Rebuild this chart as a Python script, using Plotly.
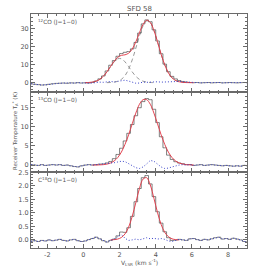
import plotly.graph_objects as go

# channel velocities (km/s)
velocity = [-2.9, -2.7, -2.5, -2.3, -2.1, -1.9, -1.7, -1.5, -1.3, -1.1,
            -0.9, -0.7, -0.5, -0.3, -0.1, 0.1, 0.3, 0.5, 0.7, 0.9,
            1.1, 1.3, 1.5, 1.7, 1.9, 2.1, 2.3, 2.5, 2.7, 2.9,
            3.1, 3.3, 3.5, 3.7, 3.9, 4.1, 4.3, 4.5, 4.7, 4.9,
            5.1, 5.3, 5.5, 5.7, 5.9, 6.1, 6.3, 6.5, 6.7, 6.9,
            7.1, 7.3, 7.5, 7.7, 7.9, 8.1, 8.3, 8.5, 8.7, 8.9, 9.1]

# ---- 12CO (J=1-0)
co12_obs = [-0.6, -0.9, -1.1, -1.3, -1.2, -0.9, -0.6, -0.4, -0.3, -0.2,
            -0.3, -0.1, -0.2, 0.0, -0.2, -0.07, -0.19, 0.13, 0.93, 2.13,
            3.74, 6.53, 9.7, 12.3, 14.7, 16.2, 16.9, 17.3, 18.8, 22.4,
            27.6, 32.7, 34.9, 33.9, 29.4, 23.2, 16.1, 10.3, 6.1, 3.5,
            2.1, 1.2, 0.67, 0.36, 0.1, 0.0, 0.1, -0.1, 0.0, 0.1,
            -0.1, 0.0, 0.1, -0.1, 0.0, 0.1, 0.0, -0.1, 0.0, 0.1, 0.0]
co12_res = [-0.6, -0.9, -1.1, -1.3, -1.2, -0.9, -0.6, -0.4, -0.3, -0.2,
            -0.3, -0.1, -0.2, 0.0, -0.2, -0.1, -0.3, -0.2, 0.1, 0.3,
            0.2, 0.5, 0.7, 0.4, 0.6, 1.0, 1.4, 0.9, 0.1, -0.3,
            -0.2, 0.3, 0.2, 0.4, 0.3, 0.5, 0.3, 0.4, 0.6, 0.8,
            0.9, 0.7, 0.5, 0.3, 0.1, 0.0, 0.1, -0.1, 0.0, 0.1,
            -0.1, 0.0, 0.1, -0.1, 0.0, 0.1, 0.0, -0.1, 0.0, 0.1, 0.0]
co12_fit_first = 15
co12_fit = [0.03, 0.11, 0.33, 0.83, 1.83, 3.54, 6.03, 9.0, 11.9, 14.1,
            15.2, 15.5, 16.4, 18.7, 22.7, 27.8, 32.4, 34.7, 33.5, 29.1,
            22.7, 15.8, 9.9, 5.5, 2.7, 1.2, 0.5, 0.17, 0.06, 0.02, 0.0]
co12_comp1_first = 15
co12_comp1 = [0.03, 0.11, 0.33, 0.83, 1.83, 3.54, 6.0, 8.9, 11.6, 13.3,
              13.3, 11.6, 8.9, 6.0, 3.54, 1.83, 0.83, 0.33, 0.11, 0.03]
co12_comp2_first = 21
co12_comp2 = [0.03, 0.1, 0.3, 0.79, 1.86, 3.9, 7.5, 12.7, 19.2, 26.0,
              31.6, 34.4, 33.4, 29.1, 22.7, 15.8, 9.9, 5.5, 2.7, 1.2,
              0.5, 0.17, 0.06]

# ---- 13CO (J=1-0)
co13_obs = [0.1, 0.0, -0.1, 0.1, -0.1, 0.0, 0.1, 0.0, 0.1, -0.1,
            0.0, -0.2, -0.4, -0.5, -0.2, 0.0, 0.1, 0.0, 0.1, 0.24,
            0.3, 0.55, 0.93, 1.67, 2.77, 4.39, 6.3, 8.3, 10.6, 12.9,
            15.0, 16.6, 17.4, 17.1, 14.6, 11.1, 7.4, 4.5, 2.59, 1.47,
            0.87, 0.53, 0.35, 0.1, 0.14, -0.1, 0.0, 0.1, -0.1, 0.0,
            0.1, 0.0, -0.1, -0.2, -0.1, -0.2, -0.3, -0.2, -0.3, -0.1, -0.2]
co13_res = [0.1, 0.0, -0.1, 0.1, -0.1, 0.0, 0.1, 0.0, 0.1, -0.1,
            0.0, -0.2, -0.4, -0.5, -0.2, 0.0, 0.1, 0.0, 0.1, 0.2,
            0.2, 0.3, 0.4, 0.6, 0.8, 1.0, 0.9, 0.4, -0.2, -0.7,
            -0.9, -0.5, 0.3, 1.2, 1.0, 0.3, -0.5, -0.9, -0.8, -0.5,
            -0.2, 0.0, 0.1, 0.0, 0.1, -0.1, 0.0, 0.1, -0.1, 0.0,
            0.1, 0.0, -0.1, -0.2, -0.1, -0.2, -0.3, -0.2, -0.3, -0.1, -0.2]
co13_fit_first = 17
co13_fit = [0.0, 0.01, 0.04, 0.1, 0.25, 0.53, 1.07, 1.97, 3.39, 5.4,
            7.9, 10.8, 13.6, 15.9, 17.1, 17.1, 15.9, 13.6, 10.8, 7.9,
            5.4, 3.39, 1.97, 1.07, 0.53, 0.25, 0.1, 0.04, 0.01]

# ---- C18O (J=1-0)
c18o_obs = [-0.05, -0.03, -0.06, -0.02, -0.04, 0.0, -0.03, -0.01, 0.02, -0.02,
            -0.04, 0.0, 0.02, -0.03, -0.06, -0.04, 0.01, 0.05, 0.1, 0.04,
            -0.03, -0.08, -0.02, 0.03, 0.15, 0.29, 0.28, 0.45, 0.87, 1.41,
            1.90, 2.30, 2.38, 2.07, 1.60, 1.04, 0.62, 0.30, 0.08, -0.02,
            -0.01, 0.02, 0.0, -0.02, 0.04, 0.05, 0.01, -0.02, 0.02, 0.0,
            0.04, 0.08, 0.1, 0.03, 0.05, 0.02, 0.06, 0.03, 0.0, -0.06, -0.08]
c18o_res = [-0.05, -0.03, -0.06, -0.02, -0.04, 0.0, -0.03, -0.01, 0.02, -0.02,
            -0.04, 0.0, 0.02, -0.03, -0.06, -0.04, 0.01, 0.05, 0.1, 0.04,
            -0.03, -0.08, -0.02, 0.03, 0.12, 0.2, 0.06, -0.02, 0.0, 0.03,
            0.0, 0.05, 0.08, 0.04, 0.06, 0.03, 0.05, 0.02, -0.04, -0.06,
            -0.01, 0.02, 0.0, -0.02, 0.04, 0.05, 0.01, -0.02, 0.02, 0.0,
            0.04, 0.08, 0.1, 0.03, 0.05, 0.02, 0.06, 0.03, 0.0, -0.06, -0.08]
c18o_fit_first = 22
c18o_fit = [0.0, 0.01, 0.03, 0.09, 0.22, 0.47, 0.87, 1.38, 1.90, 2.25,
            2.30, 2.03, 1.54, 1.01, 0.57, 0.28, 0.12, 0.04, 0.01, 0.0]

panel_labels = ["<sup>12</sup>CO (J=1\u22120)",
                "<sup>13</sup>CO (J=1\u22120)",
                "C<sup>18</sup>O (J=1\u22120)"]
x_tickvals = [-2, 0, 2, 4, 6, 8]
x_ticktext = ["-2", "0", "2", "4", "6", "8"]
y1_ticks = [0, 10, 20, 30]
y2_ticks = [0, 5, 10, 15]
y3_ticks = [0.0, 0.5, 1.0, 1.5, 2.0, 2.5]

OBS_C = "#4a4a4a"
FIT_C = "#e23a48"
RES_C = "#3a44c8"
CMP_C = "#8c8c8c"

fig = go.Figure()


def sub(first, vals):
    return velocity[first:first + len(vals)]


def panel(idx, obs, res, fit_first, fit, comps=()):
    xa = "x" if idx == 1 else f"x{idx}"
    ya = "y" if idx == 1 else f"y{idx}"
    for cf, cv in comps:
        fig.add_trace(go.Scatter(x=sub(cf, cv), y=cv, mode="lines",
                                 line=dict(color=CMP_C, width=0.9, dash="4px,3px", shape="spline"),
                                 xaxis=xa, yaxis=ya, showlegend=False))
    fig.add_trace(go.Scatter(x=velocity, y=obs, mode="lines",
                             line=dict(color=OBS_C, width=0.7, shape="hvh"),
                             xaxis=xa, yaxis=ya, showlegend=False))
    fig.add_trace(go.Scatter(x=sub(fit_first, fit), y=fit, mode="lines",
                             line=dict(color=FIT_C, width=0.95, shape="spline"),
                             xaxis=xa, yaxis=ya, showlegend=False))
    fig.add_trace(go.Scatter(x=velocity, y=res, mode="lines",
                             line=dict(color=RES_C, width=1.0, dash="1px,2px"),
                             xaxis=xa, yaxis=ya, showlegend=False))


panel(1, co12_obs, co12_res, co12_fit_first, co12_fit,
      comps=[(co12_comp1_first, co12_comp1), (co12_comp2_first, co12_comp2)])
panel(2, co13_obs, co13_res, co13_fit_first, co13_fit)
panel(3, c18o_obs, c18o_res, c18o_fit_first, c18o_fit)

FRAME = "#6a6a6a"
TICKF = dict(family="DejaVu Sans", size=6.5, color="#555")

H = 238.0
doms = [[(248 - 89) / H, 1.0], [(248 - 171) / H, (248 - 89) / H], [0.0, (248 - 171) / H]]
yranges = [[-5, 38.2], [-1.9, 19.2], [-0.3, 2.5]]
yticks = [y1_ticks, y2_ticks, y3_ticks]
yminor = [2, 1, 0.1]
ytext = [[str(v) for v in y1_ticks], [str(v) for v in y2_ticks], [f"{v:.1f}" for v in y3_ticks]]

for i in range(3):
    n = "" if i == 0 else str(i + 1)
    fig.layout["xaxis" + n] = dict(
        domain=[0, 1], anchor="y" + n, range=[-2.9, 9.05],
        showline=True, linecolor=FRAME, linewidth=1, mirror="ticks",
        ticks="inside", ticklen=4, tickcolor=FRAME, tickwidth=0.8,
        tickmode="array", tickvals=x_tickvals, ticktext=x_ticktext,
        showticklabels=(i == 2), tickfont=TICKF,
        minor=dict(ticks="inside", ticklen=2, tickcolor=FRAME, dtick=0.5, tick0=0, showgrid=False),
        showgrid=False, zeroline=False, fixedrange=True)
    fig.layout["yaxis" + n] = dict(
        domain=doms[i], anchor="x" + n, range=yranges[i],
        showline=True, linecolor=FRAME, linewidth=1, mirror="ticks",
        ticks="inside", ticklen=4, tickcolor=FRAME, tickwidth=0.8,
        tickmode="array", tickvals=yticks[i], ticktext=ytext[i],
        tickfont=TICKF,
        minor=dict(ticks="inside", ticklen=2, tickcolor=FRAME, dtick=yminor[i], tick0=0, showgrid=False),
        showgrid=False, zeroline=False, fixedrange=True)
    fig.add_annotation(text=panel_labels[i], xref="x" + n + " domain", yref="y" + n + " domain",
                       x=0.025, y=0.975, xanchor="left", yanchor="top", showarrow=False,
                       font=dict(family="DejaVu Sans", size=5.8, color="#555"))

fig.add_annotation(text="SFD 58", xref="paper", yref="paper", x=0.5, y=1.0,
                   xanchor="center", yanchor="bottom", yshift=-1, showarrow=False,
                   font=dict(family="DejaVu Sans", size=7, color="#555"))
fig.add_annotation(text="Receiver Temperature T<sub>A</sub><sup>*</sup> (K)", xref="paper", yref="paper",
                   x=(15 - 31) / 217.0, y=(248 - 129) / H, textangle=-90,
                   xanchor="center", yanchor="middle", showarrow=False,
                   font=dict(family="DejaVu Sans", size=5.4, color="#555"))
fig.add_annotation(text="V<sub>LSR</sub> (km s<sup>-1</sup>)", xref="paper", yref="paper",
                   x=0.5, y=(248 - 263) / H, xanchor="center", yanchor="middle", showarrow=False,
                   font=dict(family="DejaVu Sans", size=6, color="#555"))

fig.update_layout(width=258, height=269, margin=dict(l=31, r=10, t=10, b=21),
                  paper_bgcolor="white", plot_bgcolor="white", showlegend=False)

fig.write_html("out.html", config=dict(displayModeBar=False),
               post_script="document.body.style.margin='0';document.body.style.overflow='hidden';")
